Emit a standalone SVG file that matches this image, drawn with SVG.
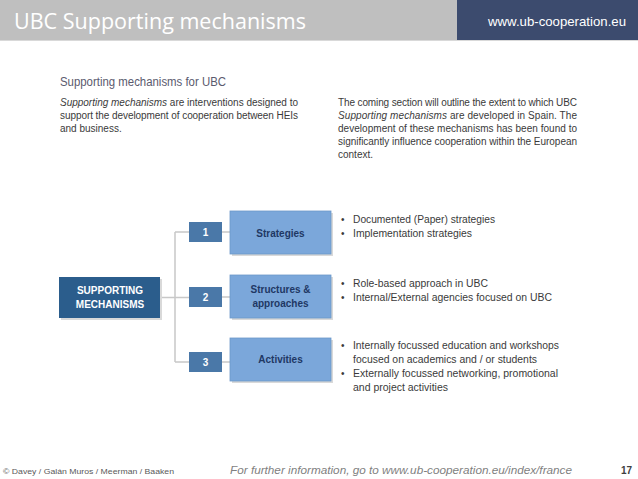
<svg xmlns="http://www.w3.org/2000/svg" width="638" height="479" viewBox="0 0 638 479">
<style>
.t{font-family:"Liberation Sans",Arial,sans-serif}
.body{font-family:"Liberation Sans",Arial,sans-serif;font-size:10px;fill:#3a3a3a}
.conn{stroke:#c8c8c8;stroke-width:1.5;fill:none}
.num{fill:#4a78a8}
.big{fill:#7ba7da;stroke:#6d98c9;stroke-width:0.8}
.sh{fill:#d9d9d9}
.numt{font-family:"Liberation Sans",Arial,sans-serif;font-size:10px;font-weight:bold;fill:#ffffff;text-anchor:middle}
.bigt{font-family:"Liberation Sans",Arial,sans-serif;font-size:10px;font-weight:bold;fill:#1f3864;text-anchor:middle}
</style>
<rect x="0" y="0" width="638" height="479" fill="#ffffff"/>
<g id="header">
<rect x="0" y="0" width="457" height="40" fill="#bfbfbf"/>
<rect x="457" y="0" width="181" height="40" fill="#3c4b6e"/>
<rect x="0" y="40" width="638" height="1" fill="#d9d9d9"/>
<text x="14" y="29" font-family="'Open Sans','Noto Sans',sans-serif" font-size="21" fill="#ffffff" textLength="292" lengthAdjust="spacingAndGlyphs">UBC Supporting mechanisms</text>
<text class="t" x="488" y="26" font-size="13" fill="#ffffff" textLength="138" lengthAdjust="spacingAndGlyphs">www.ub-cooperation.eu</text>
</g>
<g id="intro">
<text class="t" x="60" y="86" font-size="12" fill="#5a5a6e" textLength="166" lengthAdjust="spacingAndGlyphs">Supporting mechanisms for UBC</text>
<text class="body" x="60" y="106" textLength="238" lengthAdjust="spacing"><tspan font-style="italic">Supporting mechanisms</tspan> are interventions designed to</text>
<text class="body" x="60" y="119" textLength="238" lengthAdjust="spacing">support the development of cooperation between HEIs</text>
<text class="body" x="60" y="132">and business.</text>
<text class="body" x="338" y="106" textLength="239" lengthAdjust="spacing">The coming section will outline the extent to which UBC</text>
<text class="body" x="338" y="119" textLength="239" lengthAdjust="spacing"><tspan font-style="italic">Supporting mechanisms</tspan> are developed in Spain. The</text>
<text class="body" x="338" y="132" textLength="239" lengthAdjust="spacing">development of these mechanisms has been found to</text>
<text class="body" x="338" y="145" textLength="239" lengthAdjust="spacing">significantly influence cooperation within the European</text>
<text class="body" x="338" y="158">context.</text>
</g>
<g id="connectors">
<path class="conn" d="M160 297.5 H189 M175 232 V362 M175 232 H189 M175 362 H189 M222 232 H230 M222 297 H230 M222 362 H230"/>
</g>
<g id="main">
<rect x="61" y="279" width="101" height="41" fill="#d9d9d9"/>
<rect x="59" y="277" width="101" height="41" fill="#2b5d8c"/>
<text class="numt" x="110" y="294" font-size="10.5">SUPPORTING</text>
<text class="numt" x="110" y="308" font-size="10.5">MECHANISMS</text>
</g>
<g id="n1">
<rect class="num" x="189" y="222" width="33" height="20"/>
<text class="numt" x="205.5" y="236">1</text>
</g>
<g id="n2">
<rect class="num" x="189" y="287" width="33" height="20"/>
<text class="numt" x="205.5" y="301">2</text>
</g>
<g id="n3">
<rect class="num" x="189" y="352" width="33" height="20"/>
<text class="numt" x="205.5" y="366">3</text>
</g>
<g id="strategies">
<rect class="sh" x="232" y="213" width="101" height="43"/>
<rect class="big" x="230" y="211" width="101" height="43"/>
<text class="bigt" x="280.5" y="237">Strategies</text>
</g>
<g id="structures">
<rect class="sh" x="232" y="277" width="101" height="43"/>
<rect class="big" x="230" y="275" width="101" height="43"/>
<text class="bigt" x="280.5" y="293">Structures &amp;</text>
<text class="bigt" x="280.5" y="307">approaches</text>
</g>
<g id="activities">
<rect class="sh" x="232" y="340" width="101" height="43"/>
<rect class="big" x="230" y="338" width="101" height="43"/>
<text class="bigt" x="280.5" y="363">Activities</text>
</g>
<g id="list1">
<text class="body" x="341" y="223">•</text><text class="body" x="353" y="223" textLength="142" lengthAdjust="spacingAndGlyphs">Documented (Paper) strategies</text>
<text class="body" x="341" y="237">•</text><text class="body" x="353" y="237" textLength="119" lengthAdjust="spacingAndGlyphs">Implementation strategies</text>
</g>
<g id="list2">
<text class="body" x="341" y="287">•</text><text class="body" x="353" y="287" textLength="135" lengthAdjust="spacingAndGlyphs">Role-based approach in UBC</text>
<text class="body" x="341" y="301">•</text><text class="body" x="353" y="301" textLength="199" lengthAdjust="spacingAndGlyphs">Internal/External agencies focused on UBC</text>
</g>
<g id="list3">
<text class="body" x="341" y="349">•</text><text class="body" x="353" y="349" textLength="206" lengthAdjust="spacingAndGlyphs">Internally focussed education and workshops</text>
<text class="body" x="353" y="363" textLength="184" lengthAdjust="spacingAndGlyphs">focused on academics and / or students</text>
<text class="body" x="341" y="377">•</text><text class="body" x="353" y="377" textLength="205" lengthAdjust="spacingAndGlyphs">Externally focussed networking, promotional</text>
<text class="body" x="353" y="391" textLength="95" lengthAdjust="spacingAndGlyphs">and project activities</text>
</g>
<g id="footer">
<text class="t" x="3" y="474" font-size="8" fill="#595959" textLength="171" lengthAdjust="spacingAndGlyphs">© Davey / Galán Muros / Meerman / Baaken</text>
<text class="t" x="230" y="474" font-size="10.5" font-style="italic" fill="#7f7f7f" textLength="342" lengthAdjust="spacingAndGlyphs">For further information, go to www.ub-cooperation.eu/index/france</text>
<text class="t" x="621" y="474" font-size="10" font-weight="bold" fill="#404040">17</text>
</g>
</svg>
